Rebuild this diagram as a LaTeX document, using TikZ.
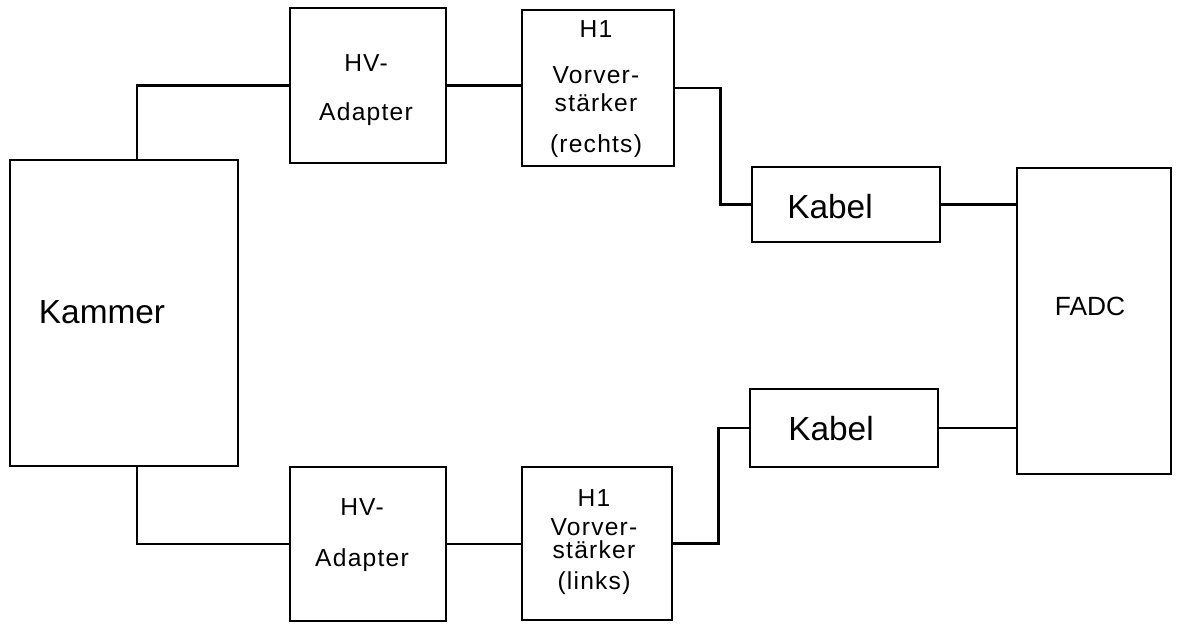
\documentclass[tikz,border=0pt]{standalone}
\usepackage{fontspec}
\setmainfont{Liberation Sans}
\newfontfamily\spacedfont[LetterSpace=5]{Liberation Sans}
\usepackage{tikz}
\usetikzlibrary{positioning}
\tikzset{
    blockbox/.style={rectangle, draw=black, line width=1.6pt, inner sep=0pt},
    bigtext/.style={font=\fontsize{19}{22}\selectfont},
    midtext/.style={font=\fontsize{15}{18}\selectfont},
    smalltext/.style={font=\spacedfont\fontsize{14}{16}\selectfont, align=center},
    wire/.style={line width=1.6pt},
}
\begin{document}
\begin{tikzpicture}[x=0.02cm, y=-0.02cm]
    \useasboundingbox (0,0) rectangle (1178,623);
    % Kaesten
    \node[blockbox, minimum width=4.56cm, minimum height=6.12cm] (kammer) at (124,313) {};
    \node[blockbox, minimum width=3.12cm, minimum height=3.10cm] (hvA) at (368,85.5) {};
    \node[blockbox, minimum width=3.04cm, minimum height=3.12cm] (vvA) at (598,88) {};
    \node[blockbox, minimum width=3.76cm, minimum height=1.50cm] (kabA) at (846,204.5) {};
    \node[blockbox, minimum width=3.08cm, minimum height=6.12cm] (fadc) at (1094,321) {};
    \node[blockbox, minimum width=3.76cm, minimum height=1.56cm] (kabB) at (844,428) {};
    \node[blockbox, minimum width=3.12cm, minimum height=3.08cm] (hvB) at (368,544) {};
    \node[blockbox, minimum width=3.00cm, minimum height=3.06cm] (vvB) at (597,543.5) {};
    % Beschriftung
    \node[bigtext] (kammerText) at (102,312) {Kammer};
    \node[smalltext] (hvAText) at (366,90) {HV-\\[0.42cm]Adapter};
    \node[smalltext] (vvAText) at (596,89) {H1\\[0.36cm]Vorver-\\stärker\\[0.24cm](rechts)};
    \node[bigtext] (kabAText) at (830,207) {Kabel};
    \node[midtext] (fadcText) at (1090,306) {FADC};
    \node[bigtext] (kabBText) at (831,429) {Kabel};
    \node[smalltext] (hvBText) at (362,535) {HV-\\[0.46cm]Adapter};
    \node[smalltext] (vvBText) at (594,542) {H1\\[0.02cm]Vorver-\\[-0.1cm]stärker\\[0.04cm](links)};
    % Leitungen oben
    \draw[wire] ([xshift=0.26cm]kammer.north) |- (hvA.west);
    \draw[wire] (hvA.east) -- (hvA.east -| vvA.west);
    \draw[wire] (vvA.east) -- ++(45,0) |- (kabA.west);
    \draw[wire] (kabA.east) -- (kabA.east -| fadc.west);
    % Leitungen unten
    \draw[wire] ([xshift=0.26cm]kammer.south) |- (hvB.west);
    \draw[wire] (hvB.east) -- (hvB.east -| vvB.west);
    \draw[wire] (vvB.east) -- ++(45,0) |- (kabB.west);
    \draw[wire] (kabB.east) -- (kabB.east -| fadc.west);
\end{tikzpicture}
\end{document}
